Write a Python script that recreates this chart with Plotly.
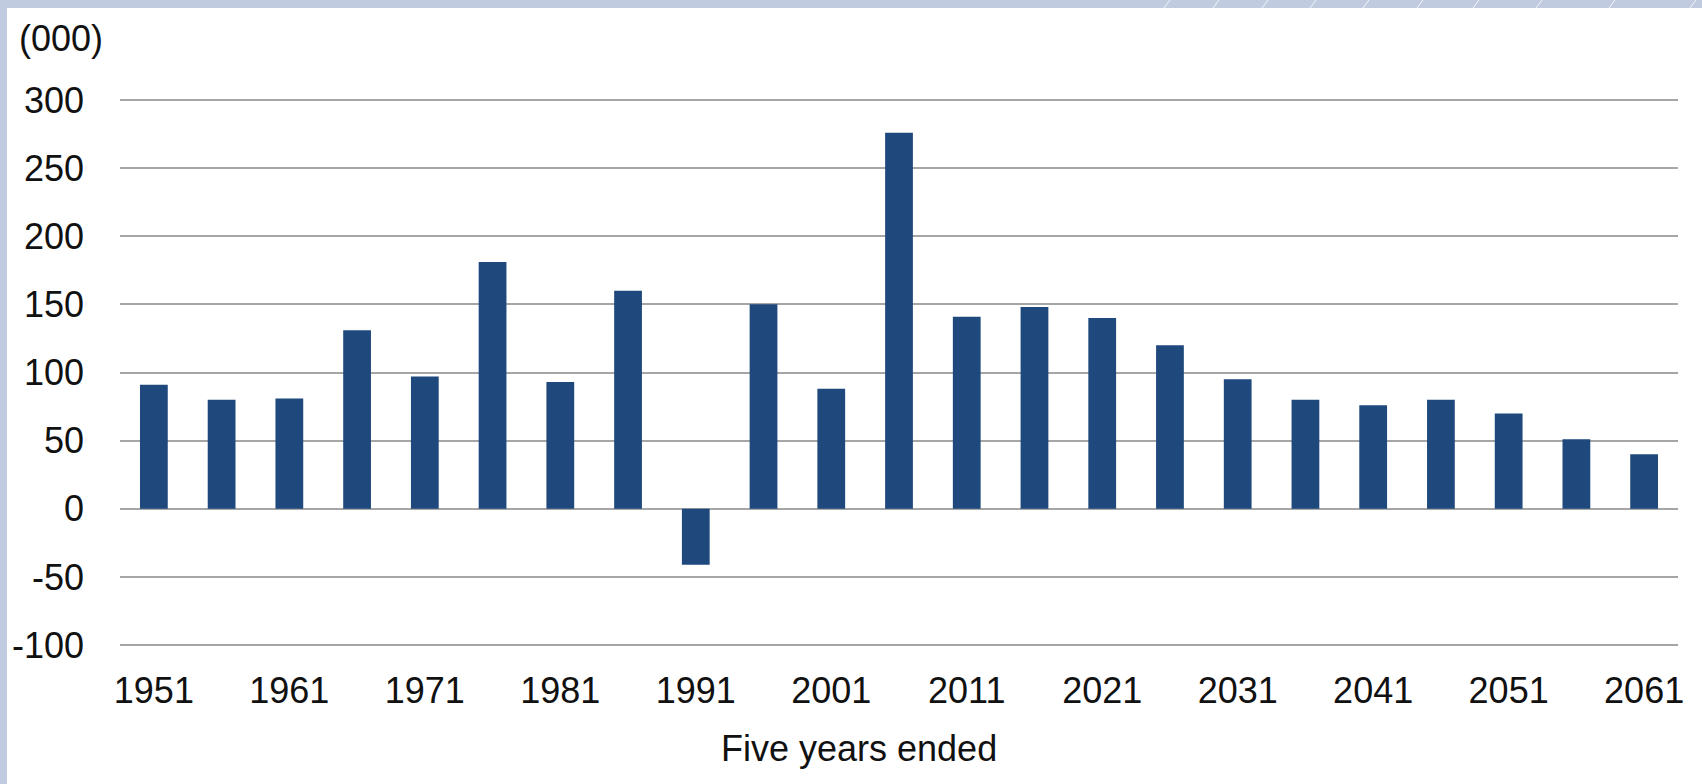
import plotly.graph_objects as go

# ---- data ----
periods = [str(y) for y in range(1951, 2062, 5)]
values = [91, 80, 81, 131, 97, 181, 93, 160, -41, 150, 88, 276,
          141, 148, 140, 120, 95, 80, 76, 80, 70, 51, 40]
tick_labels = periods[::2]
y_ticks = [-100, -50, 0, 50, 100, 150, 200, 250, 300]
y_tick_text = ["-100", "-50", "0", "50", "100", "150", "200", "250", "300"]
unit_label = "(000)"
x_title = "Five years ended"

# ---- layout constants ----
W, H = 1702, 784
L, R, T, B = 120, 24, 99, 138
PW, PH = W - L - R, H - T - B
FONT = "Liberation Sans, Arial, sans-serif"
FS = 36
BAND = "#C1CBE0"
BAR = "#1F497D"
GRID = "#A6A6A6"


def px_x(px):
    return (px - L) / PW


def px_y(py):
    return (H - B - py) / PH


fig = go.Figure(go.Bar(
    x=periods, y=values, marker=dict(color=BAR, line=dict(width=0)),
))

shapes = [
    dict(type="rect", xref="paper", yref="paper", x0=px_x(0), x1=px_x(W),
         y0=px_y(8), y1=px_y(0), fillcolor=BAND, line=dict(width=0), layer="below"),
    dict(type="rect", xref="paper", yref="paper", x0=px_x(0), x1=px_x(7),
         y0=px_y(H), y1=px_y(0), fillcolor=BAND, line=dict(width=0), layer="below"),
]
for lx in [1167, 1216, 1265, 1313, 1366, 1420, 1476, 1539, 1612, 1693]:
    shapes.append(dict(type="line", xref="paper", yref="paper",
                       x0=px_x(lx - 3), y0=px_y(8), x1=px_x(lx + 3), y1=px_y(0),
                       line=dict(color="rgba(255,255,255,0.8)", width=1)))
# edge gridlines (at the first and last y tick)
for yv in (y_ticks[0], y_ticks[-1]):
    shapes.append(dict(type="line", xref="paper", yref="y", x0=0, x1=1, y0=yv, y1=yv,
                       line=dict(color=GRID, width=2), layer="below"))

fig.update_layout(
    width=W, height=H,
    margin=dict(l=L, r=R, t=T, b=B, pad=0),
    paper_bgcolor="white", plot_bgcolor="white",
    showlegend=False,
    bargap=0.59,
    font=dict(family=FONT, size=FS, color="#111111"),
    shapes=shapes,
    annotations=[
        dict(text=unit_label, xref="paper", yref="paper", x=px_x(17), y=px_y(38),
             xanchor="left", yanchor="middle", showarrow=False,
             font=dict(family=FONT, size=FS, color="#111111")),
        dict(text=x_title, xref="paper", yref="paper", x=px_x(859), y=px_y(748),
             xanchor="center", yanchor="middle", showarrow=False,
             font=dict(family=FONT, size=FS, color="#111111")),
    ],
    xaxis=dict(
        type="category", tickmode="array", tickvals=tick_labels, ticktext=tick_labels,
        showgrid=False, showline=False, zeroline=False, ticks="",
        ticklabelstandoff=20, tickangle=0,
        tickfont=dict(family=FONT, size=FS, color="#111111"),
    ),
    yaxis=dict(
        range=[-100.7, 300.7], tickmode="array", tickvals=y_ticks, ticktext=y_tick_text,
        showgrid=True, gridcolor=GRID, gridwidth=2,
        zeroline=True, zerolinecolor=GRID, zerolinewidth=2,
        showline=False, ticks="", ticklabelstandoff=35,
        tickfont=dict(family=FONT, size=FS, color="#111111"),
    ),
)

fig.write_html("out.html")
